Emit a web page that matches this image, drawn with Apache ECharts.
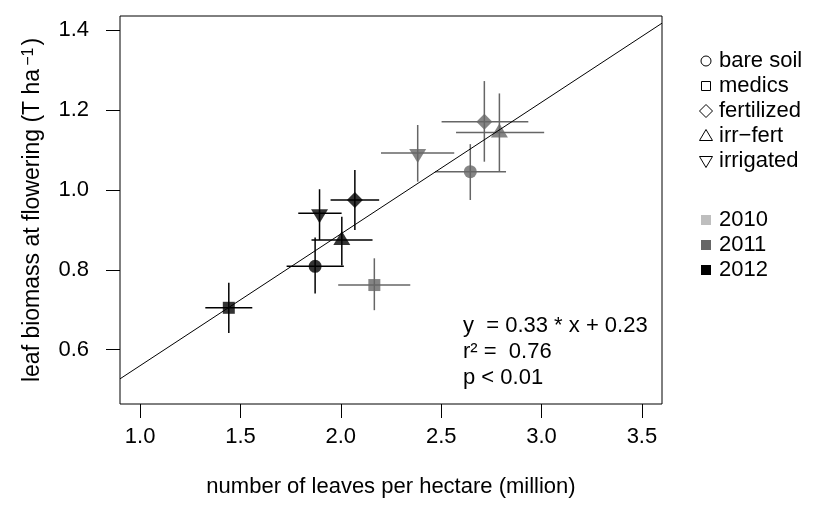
<!DOCTYPE html>
<html>
<head>
<meta charset="utf-8">
<script src="https://cdn.jsdelivr.net/npm/echarts@6/dist/echarts.min.js"></script>
<style>
  html, body { margin: 0; padding: 0; background: #fff; }
  #chart { width: 827px; height: 510px; }
</style>
</head>
<body>
<div id="chart"></div>
<script>
// Treatments and years shown in the key
const treatments = ['bare soil', 'medics', 'fertilized', 'irr\u2212fert', 'irrigated'];
const years = ['2010', '2011', '2012'];

// One entry per treatment-year mean
const obsTreatment = ['medics', 'bare soil', 'irr\u2212fert', 'irrigated', 'fertilized',
                      'medics', 'bare soil', 'fertilized', 'irr\u2212fert', 'irrigated'];
const obsYear      = ['2012', '2012', '2012', '2012', '2012',
                      '2011', '2011', '2011', '2011', '2011'];
const leaves       = [1.442, 1.872, 2.005, 1.894, 2.070, 2.167, 2.645, 2.715, 2.790, 2.383];
const leavesLow    = [1.325, 1.730, 1.854, 1.788, 1.949, 1.987, 2.469, 2.502, 2.574, 2.200];
const leavesHigh   = [1.559, 2.015, 2.158, 2.004, 2.191, 2.346, 2.823, 2.934, 3.013, 2.565];
const biomass      = [0.705, 0.809, 0.875, 0.942, 0.975, 0.762, 1.046, 1.171, 1.144, 1.093];
const biomassLow   = [0.642, 0.741, 0.811, 0.875, 0.900, 0.699, 0.975, 1.071, 1.046, 1.021];
const biomassHigh  = [0.768, 0.881, 0.933, 1.002, 1.050, 0.829, 1.115, 1.273, 1.242, 1.163];

// Axis ticks
const xTicks = [1.0, 1.5, 2.0, 2.5, 3.0, 3.5];
const yTicks = [0.6, 0.8, 1.0, 1.2, 1.4];

// Linear fit and its summary
const fitSlope = 0.33;
const fitIntercept = 0.23;
const statLines = ['y  = 0.33 * x + 0.23', 'r\u00b2 =  0.76', 'p < 0.01'];

// ---- styling ----
const FONT = '"Liberation Sans", Arial, Helvetica, sans-serif';
const FS = 22;
const yearColor = { '2010': '#bebebe', '2011': '#666666', '2012': '#000000' };
const X_MIN = 0.9, X_MAX = 3.6, Y_MIN = 0.464, Y_MAX = 1.436;
const DOWN_TRI = 'path://M0,0L20,0L10,17Z';
const markerStyle = {
  'bare soil':  { symbol: 'circle',   size: 13,        offset: [0, 0] },
  'medics':     { symbol: 'rect',     size: 12,        offset: [0, 0] },
  'fertilized': { symbol: 'diamond',  size: [16, 16],  offset: [0, 0] },
  'irr\u2212fert': { symbol: 'triangle', size: [17, 14], offset: [0, -2] },
  'irrigated':  { symbol: DOWN_TRI,   size: [17, 14],  offset: [0, 3] }
};

const chart = echarts.init(document.getElementById('chart'), null, { renderer: 'canvas' });

// error bar rows: [x, y, xlo, xhi, ylo, yhi, year]
const errRows = leaves.map((x, i) => [x, biomass[i], leavesLow[i], leavesHigh[i], biomassLow[i], biomassHigh[i], obsYear[i]]);

const markerSeries = treatments.map(t => {
  const st = markerStyle[t];
  const data = [];
  leaves.forEach((x, i) => {
    if (obsTreatment[i] === t) {
      data.push({ value: [x, biomass[i]], itemStyle: { color: yearColor[obsYear[i]] } });
    }
  });
  return {
    type: 'scatter', name: t, data,
    symbol: st.symbol, symbolSize: st.size, symbolOffset: st.offset,
    z: 4, silent: true
  };
});

// key drawn beside the plot
const legendGraphics = [];
const LX = 706, LTX = 719, ROW = 25;
treatments.forEach((t, i) => {
  const y = 61 + i * ROW;
  const stroke = { stroke: '#000', fill: 'none', lineWidth: 1 };
  let shape;
  if (t === 'bare soil') shape = { type: 'circle', shape: { cx: LX, cy: y, r: 5 }, style: stroke };
  else if (t === 'medics') shape = { type: 'rect', shape: { x: LX - 4.5, y: y - 4.5, width: 9, height: 9 }, style: stroke };
  else if (t === 'fertilized') shape = { type: 'polygon', shape: { points: [[LX, y - 6.5], [LX + 6.5, y], [LX, y + 6.5], [LX - 6.5, y]] }, style: stroke };
  else if (t === 'irr\u2212fert') shape = { type: 'polygon', shape: { points: [[LX, y - 6.5], [LX + 6.5, y + 4.5], [LX - 6.5, y + 4.5]] }, style: stroke };
  else shape = { type: 'polygon', shape: { points: [[LX - 6.5, y - 4.5], [LX + 6.5, y - 4.5], [LX, y + 6.5]] }, style: stroke };
  legendGraphics.push(shape);
  legendGraphics.push({ type: 'text', x: LTX, y: y, style: { text: t, font: FS + 'px ' + FONT, fill: '#000', verticalAlign: 'middle', align: 'left' } });
});
years.forEach((yr, j) => {
  const y = 220 + j * ROW;
  legendGraphics.push({ type: 'rect', shape: { x: LX - 5, y: y - 5, width: 10, height: 10 }, style: { fill: yearColor[yr] } });
  legendGraphics.push({ type: 'text', x: LTX, y: y, style: { text: yr, font: FS + 'px ' + FONT, fill: '#000', verticalAlign: 'middle', align: 'left' } });
});
statLines.forEach((s, k) => {
  legendGraphics.push({ type: 'text', x: 463, y: 326 + k * 26, style: { text: s, font: FS + 'px ' + FONT, fill: '#000', verticalAlign: 'middle', align: 'left' } });
});

const option = {
  animation: false,
  backgroundColor: '#fff',
  textStyle: { fontFamily: FONT, color: '#000' },
  grid: { left: 120, top: 16, width: 542, height: 388, show: true, borderColor: '#000', borderWidth: 1, backgroundColor: 'transparent' },
  xAxis: {
    type: 'value', min: X_MIN, max: X_MAX,
    name: 'number of leaves per hectare (million)',
    nameLocation: 'middle', nameGap: 72,
    nameTextStyle: { fontSize: FS, color: '#000', fontFamily: FONT },
    axisLine: { show: false },
    axisTick: { show: true, customValues: xTicks, length: 14, lineStyle: { color: '#000', width: 1 } },
    axisLabel: { customValues: xTicks, margin: 22, fontSize: FS, color: '#000', fontFamily: FONT, formatter: v => v.toFixed(1) },
    splitLine: { show: false }
  },
  yAxis: {
    type: 'value', min: Y_MIN, max: Y_MAX,
    name: 'leaf biomass at flowering (T ha{sup|\u22121})',
    nameLocation: 'middle', nameGap: 76,
    nameTextStyle: { fontSize: 23, color: '#000', fontFamily: FONT,
      rich: { sup: { fontSize: 16, verticalAlign: 'top', fontFamily: FONT, color: '#000', padding: [0, 2, 0, 3] } } },
    axisLine: { show: false },
    axisTick: { show: true, customValues: yTicks, length: 14, lineStyle: { color: '#000', width: 1 } },
    axisLabel: { customValues: yTicks, margin: 31, fontSize: FS, color: '#000', fontFamily: FONT, formatter: v => v.toFixed(1) },
    splitLine: { show: false }
  },
  series: [
    {
      type: 'custom', name: 'error bars', data: errRows, silent: true, z: 2,
      encode: { x: [0, 2, 3], y: [1, 4, 5] },
      renderItem: (params, api) => {
        const c = yearColor[errRows[params.dataIndex][6]];
        const pL = api.coord([api.value(2), api.value(1)]);
        const pR = api.coord([api.value(3), api.value(1)]);
        const pB = api.coord([api.value(0), api.value(4)]);
        const pT = api.coord([api.value(0), api.value(5)]);
        return {
          type: 'group',
          children: [
            { type: 'line', shape: { x1: pL[0], y1: pL[1], x2: pR[0], y2: pR[1] }, style: { stroke: c, lineWidth: 1.5 } },
            { type: 'line', shape: { x1: pB[0], y1: pB[1], x2: pT[0], y2: pT[1] }, style: { stroke: c, lineWidth: 1.5 } }
          ]
        };
      }
    },
    ...markerSeries,
    {
      type: 'line', name: 'fit', silent: true, z: 5, clip: true,
      data: [[X_MIN, fitSlope * X_MIN + fitIntercept], [X_MAX, fitSlope * X_MAX + fitIntercept]],
      symbol: 'none', lineStyle: { color: '#000', width: 1 }
    }
  ],
  graphic: legendGraphics
};
chart.setOption(option);
</script>
</body>
</html>
